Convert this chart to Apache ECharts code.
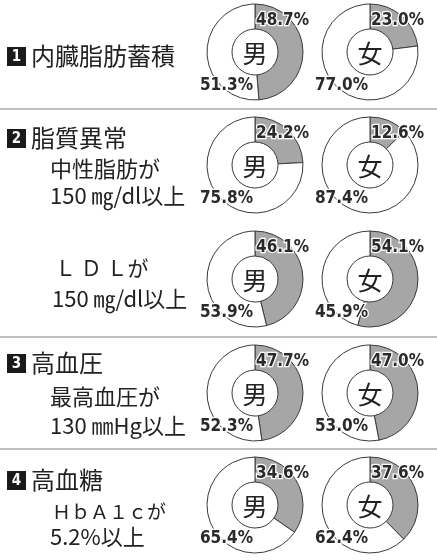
<!DOCTYPE html>
<html>
<head>
<meta charset="utf-8">
<script src="https://cdn.jsdelivr.net/npm/echarts@6/dist/echarts.min.js"></script>
<style>
html, body { margin: 0; padding: 0; background: #fff; }
#main { width: 437px; height: 560px; }
</style>
</head>
<body>
<div id="main"></div>
<script>
// 各項目の該当者割合（%）
var items = ['内臓脂肪蓄積', '中性脂肪', 'LDL', '最高血圧', 'HbA1c'];
var male = [48.7, 24.2, 46.1, 47.7, 34.6];
var female = [23.0, 12.6, 54.1, 47.0, 37.6];
var sexLabels = ['男', '女'];

var cjk = '"Noto Sans CJK JP", "Noto Sans", sans-serif';
var numFont = '"Liberation Sans Narrow", "DejaVu Sans Condensed", sans-serif';

var colX = [255, 370];
var rowY = [52, 165, 279, 393, 505];
var R = 48, r = 23;

var myChart = echarts.init(document.getElementById('main'), null, { renderer: 'canvas' });

var series = [];
var centers = [];
for (var i = 0; i < items.length; i++) {
    var vals = [male[i], female[i]];
    for (var s = 0; s < 2; s++) {
        centers.push([colX[s], rowY[i]]);
        series.push({
            type: 'pie',
            name: items[i] + sexLabels[s],
            center: [colX[s], rowY[i]],
            radius: [r, R],
            startAngle: 90,
            clockwise: true,
            avoidLabelOverlap: false,
            silent: true,
            labelLine: { show: false },
            itemStyle: { borderColor: '#3a3a3a', borderWidth: 1 },
            label: {
                show: true,
                position: 'inside',
                fontFamily: numFont,
                fontWeight: 'bold',
                fontSize: 17,
                color: '#2a2a2a',
                textBorderColor: '#fff',
                textBorderWidth: 2.5,
                formatter: function (p) { return p.value.toFixed(1) + '%'; }
            },
            data: [
                { value: vals[s], itemStyle: { color: '#a6a6a6' } },
                { value: +(100 - vals[s]).toFixed(1), itemStyle: { color: '#fff' } }
            ]
        });
    }
}

var graphic = [];
// 区切り線
[109, 337, 449].forEach(function (y) {
    graphic.push({ type: 'line', shape: { x1: 0, y1: y, x2: 437, y2: y }, style: { stroke: '#ababab', lineWidth: 1.5 } });
});
// 男・女
for (var k = 0; k < centers.length; k++) {
    graphic.push({
        type: 'text', x: centers[k][0], y: centers[k][1] + 1,
        style: { text: sexLabels[k % 2], font: '25px ' + cjk, fill: '#222', align: 'center', verticalAlign: 'middle' }
    });
}
// 左側の見出し
function numBox(n, y) {
    graphic.push({ type: 'rect', shape: { x: 7, y: y - 9, width: 19, height: 19 }, style: { fill: '#1a1a1a' } });
    graphic.push({ type: 'text', x: 16.5, y: y + 1, style: { text: String(n), font: 'bold 15px ' + numFont, fill: '#fff', align: 'center', verticalAlign: 'middle' } });
}
function txt(t, x, y, size) {
    graphic.push({ type: 'text', x: x, y: y, style: { text: t, font: size + 'px ' + cjk, fill: '#222', verticalAlign: 'middle' } });
}
numBox(1, 56); txt('内臓脂肪蓄積', 31, 56, 24);
numBox(2, 138); txt('脂質異常', 31, 138, 24);
txt('中性脂肪が', 50, 169, 22);
txt('150 ㎎/dl以上', 50, 196, 22);
txt('Ｌ Ｄ Ｌが', 55, 268, 21);
txt('150 ㎎/dl以上', 52, 299, 22);
numBox(3, 363); txt('高血圧', 31, 363, 24);
txt('最高血圧が', 50, 397, 22);
txt('130 ㎜Hg以上', 50, 426, 22);
numBox(4, 480); txt('高血糖', 31, 480, 24);
txt('ＨｂＡ１ｃが', 52, 512, 19);
txt('5.2%以上', 50, 537, 22);

// ラベル位置：灰色は右上、白は左下
series.forEach(function (se, idx) {
    se.labelLayout = function (params) {
        var c = centers[idx];
        if (params.dataIndex === 0) {
            return { x: c[0] + 1, y: c[1] - 31, align: 'left', verticalAlign: 'middle' };
        }
        return { x: c[0] - 2, y: c[1] + 34, align: 'right', verticalAlign: 'middle' };
    };
});

option = {
    animation: false,
    backgroundColor: '#fff',
    series: series,
    graphic: graphic
};

myChart.setOption(option);
</script>
</body>
</html>
